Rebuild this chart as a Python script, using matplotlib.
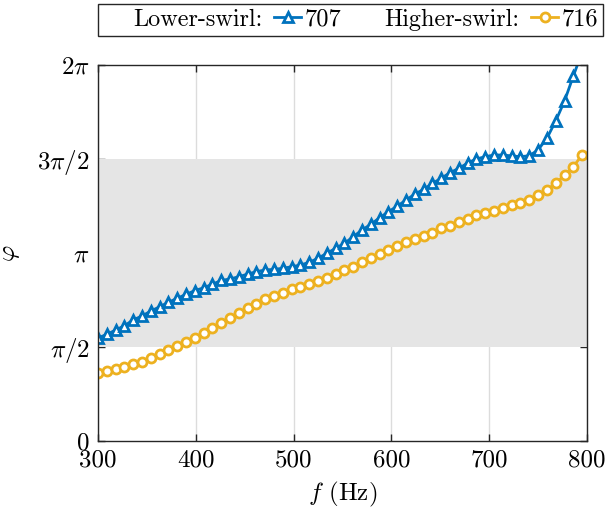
import numpy as np
import matplotlib
matplotlib.use("Agg")
import matplotlib.pyplot as plt
from matplotlib.lines import Line2D

plt.rcParams['font.family'] = 'serif'
plt.rcParams['font.serif'] = ['cmr10']
plt.rcParams['mathtext.fontset'] = 'cm'
plt.rcParams['axes.unicode_minus'] = False

# frequency (Hz)
freq = [300 + 9 * k for k in range(56)]

# phase in units of pi, Lower-swirl (707)
phase_707 = [0.547, 0.566, 0.589, 0.612, 0.643, 0.664, 0.690, 0.713, 0.737, 0.758,
             0.779, 0.799, 0.814, 0.833, 0.853, 0.861, 0.873, 0.887, 0.900, 0.909,
             0.912, 0.918, 0.926, 0.935, 0.950, 0.971, 0.998, 1.024, 1.051, 1.086,
             1.122, 1.152, 1.187, 1.219, 1.249, 1.281, 1.313, 1.338, 1.370, 1.397,
             1.427, 1.450, 1.478, 1.500, 1.512, 1.521, 1.521, 1.516, 1.512, 1.517,
             1.548, 1.610, 1.702, 1.808, 1.941, 2.069]

# phase in units of pi, Higher-swirl (716)
phase_716 = [0.362, 0.373, 0.382, 0.394, 0.408, 0.421, 0.439, 0.459, 0.483, 0.504,
             0.524, 0.549, 0.572, 0.600, 0.625, 0.653, 0.680, 0.705, 0.728, 0.753,
             0.769, 0.787, 0.806, 0.817, 0.833, 0.850, 0.866, 0.887, 0.908, 0.926,
             0.950, 0.974, 0.992, 1.015, 1.036, 1.056, 1.074, 1.090, 1.107, 1.131,
             1.145, 1.166, 1.182, 1.202, 1.214, 1.224, 1.240, 1.255, 1.267, 1.281,
             1.308, 1.335, 1.370, 1.414, 1.459, 1.521]

xticks = [300, 400, 500, 600, 700, 800]
xticklabels = ['300', '400', '500', '600', '700', '800']
yticks_pi = [0, 0.5, 1, 1.5, 2]
yticklabels = ['$0$', r'$\pi/2$', r'$\pi$', r'$3\pi/2$', r'$2\pi$']
band_pi = [0.5, 1.5]

blue = '#0072BD'
yellow = '#EDB120'
fs = 18

fig = plt.figure(figsize=(6.08, 5.14), dpi=100)
ax = fig.add_axes([98/608, 1 - 440.7/514, (587-98)/608, (440.7-65)/514])

ax.set_axisbelow(True)
ax.grid(axis='x', color='#dcdcdc', linewidth=1.0)
ax.axhspan(band_pi[0]*np.pi, band_pi[1]*np.pi, color='#e5e5e5', zorder=1, linewidth=0)

f = np.array(freq)
l1, = ax.plot(f, np.array(phase_707)*np.pi, color=blue, lw=2, marker='^',
              ms=7.5, mfc='white', mec=blue, mew=2, zorder=3, clip_on=True)
l2, = ax.plot(f, np.array(phase_716)*np.pi, color=yellow, lw=2, marker='o',
              ms=6.5, mfc='white', mec=yellow, mew=2, zorder=3, clip_on=True)

ax.set_xlim(300, 800)
ax.set_ylim(0, 2*np.pi)
ax.set_xticks(xticks)
ax.set_xticklabels(xticklabels, fontsize=fs)
ax.set_yticks(np.array(yticks_pi)*np.pi)
ax.set_yticklabels(yticklabels, fontsize=fs)
ax.tick_params(direction='in', length=5, width=1, top=True, right=True,
               colors='#262626', labelcolor='black', pad=6)
for s in ax.spines.values():
    s.set_color('#262626')
    s.set_linewidth(1.0)
    s.set_zorder(4)

ax.set_xlabel('$f$ (Hz)', fontsize=fs)
ax.set_ylabel(r'$\varphi$', fontsize=fs)
ax.xaxis.set_label_coords(0.5, -0.105)
ax.yaxis.set_label_coords(-0.155, 0.5)

blank = Line2D([], [], linestyle='none')
leg = fig.legend([blank, l1, blank, l2],
                 ['Lower-swirl:', '707', 'Higher-swirl:', '716'],
                 ncol=4, loc='upper right', bbox_to_anchor=(603/608, 1 - 4/514),
                 bbox_transform=fig.transFigure, borderaxespad=0,
                 fontsize=17.5, numpoints=1, handlelength=1.1, handletextpad=0.15,
                 columnspacing=0.5, borderpad=0.2, fancybox=False, framealpha=1,
                 edgecolor='#262626')
leg.get_frame().set_linewidth(1.0)

fig.savefig('out.png', dpi=100)
